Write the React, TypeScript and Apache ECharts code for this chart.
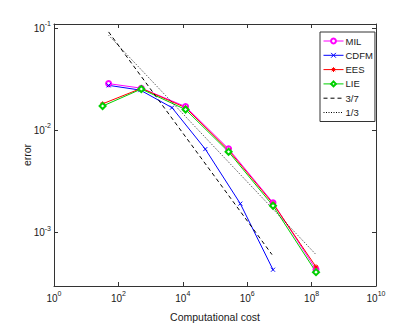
import React, { useEffect, useRef } from 'react';
import * as echarts from 'echarts';

// Series data (x = computational cost, y = error)
const milX = [49.6, 514, 12200, 264000, 6.33e6, 1.37e8];
const milY = [0.0287, 0.0259, 0.0171, 0.0066, 0.00196, 4.35e-4];
const cdfmX = [49.6, 479, 4620, 50000, 611000, 6.33e6];
const cdfmY = [0.0276, 0.0248, 0.0167, 0.00656, 0.00192, 4.33e-4];
const eesX = [32.3, 514, 12200, 264000, 6.33e6, 1.37e8];
const eesY = [0.0182, 0.0258, 0.0167, 0.0064, 0.00192, 4.62e-4];
const lieX = [32.3, 514, 12200, 264000, 6.33e6, 1.37e8];
const lieY = [0.0173, 0.0254, 0.016, 0.00617, 0.00183, 4.1e-4];
const ref37X = [49.6, 5.89e6];
const ref37Y = [0.092, 6.09e-4];
const ref13X = [49.6, 1.37e8];
const ref13Y = [0.0855, 6.09e-4];

const seriesNames = ['MIL', 'CDFM', 'EES', 'LIE', '3/7', '1/3'];
const refNames = ['3/7', '1/3'];

const FONT = "'Liberation Sans', Arial, Helvetica, sans-serif";
const AXIS_COLOR = '#333333';
const TEXT_COLOR = '#1a1a1a';

const zip = (xs: number[], ys: number[]) => xs.map((x, i) => [x, ys[i]]);

const expLabel = (v: number) => `{b|10}{s|${Math.round(Math.log10(v))}}`;

const rich = {
  b: { fontSize: 10, lineHeight: 16, fontFamily: FONT, color: TEXT_COLOR },
  s: { fontSize: 7, lineHeight: 6, verticalAlign: 'top', fontFamily: FONT, color: TEXT_COLOR },
};

const X_SYMBOL = 'path://M0 0L10 10M10 0L0 10';
const STAR_SYMBOL = 'path://M5 0L5 10M0 5L10 5M1.5 1.5L8.5 8.5M8.5 1.5L1.5 8.5';

function buildOption() {
  const xCommon = {
    type: 'log',
    logBase: 100,
    min: 1,
    max: 1e10,
    axisLine: { show: true, lineStyle: { color: AXIS_COLOR, width: 1 } },
    axisTick: { show: true, inside: true, length: 4, lineStyle: { color: AXIS_COLOR } },
    splitLine: { show: false },
    minorTick: { show: false },
  };
  const yCommon = {
    type: 'log',
    logBase: 10,
    min: 3e-4,
    max: 0.11,
    axisLine: { show: true, lineStyle: { color: AXIS_COLOR, width: 1 } },
    axisTick: { show: true, inside: true, length: 4, lineStyle: { color: AXIS_COLOR } },
    splitLine: { show: false },
    minorTick: { show: false },
  };
  const dataLine = (name: string, xs: number[], ys: number[], color: string, symbol: string, size: number) => ({
    name,
    type: 'line',
    xAxisIndex: 0,
    yAxisIndex: 0,
    data: zip(xs, ys),
    symbol,
    symbolSize: size,
    showAllSymbol: true,
    lineStyle: { color, width: 1 },
    itemStyle: { color, borderColor: color, borderWidth: 1 },
    emphasis: { disabled: true },
  });
  return {
    animation: false,
    textStyle: { fontFamily: FONT },
    grid: { left: 54, right: 39, top: 24, bottom: 40, containLabel: false },
    legend: {
      data: seriesNames.map((n) =>
        refNames.includes(n) ? { name: n, itemStyle: { opacity: 0 } } : { name: n }
      ),
      orient: 'vertical',
      left: 320,
      top: 32,
      padding: [3, 2, 3, 3],
      itemWidth: 20,
      itemHeight: 6,
      itemGap: 2.3,
      selectedMode: false,
      backgroundColor: '#ffffff',
      borderColor: AXIS_COLOR,
      borderWidth: 1,
      borderRadius: 0,
      itemStyle: { borderWidth: 1 },
      lineStyle: { width: 1 },
      textStyle: { fontSize: 9.5, lineHeight: 12, color: TEXT_COLOR, fontFamily: FONT, padding: [0, 0, 0, -3] },
    },
    xAxis: [
      {
        ...xCommon,
        position: 'bottom',
        name: 'Computational cost',
        nameLocation: 'middle',
        nameGap: 25,
        nameMoveOverlap: false,
        nameTextStyle: { fontSize: 10.5, color: TEXT_COLOR, fontFamily: FONT },
        axisLabel: { show: true, margin: 4, formatter: expLabel, rich },
      },
      {
        ...xCommon,
        position: 'top',
        axisLabel: { show: false },
      },
    ],
    yAxis: [
      {
        ...yCommon,
        position: 'left',
        name: 'error',
        nameLocation: 'middle',
        nameGap: 22,
        nameMoveOverlap: false,
        nameTextStyle: { fontSize: 10.5, color: TEXT_COLOR, fontFamily: FONT },
        axisLabel: { show: true, margin: 3, formatter: expLabel, rich, showMinLabel: false, showMaxLabel: false },
      },
      {
        ...yCommon,
        position: 'right',
        axisLabel: { show: false },
      },
    ],
    series: [
      dataLine('MIL', milX, milY, '#ff00ff', 'emptyCircle', 5),
      dataLine('CDFM', cdfmX, cdfmY, '#0000ff', X_SYMBOL, 4),
      dataLine('EES', eesX, eesY, '#ff0000', STAR_SYMBOL, 5),
      dataLine('LIE', lieX, lieY, '#00d000', 'emptyDiamond', 6),
      {
        name: '3/7',
        type: 'line',
        data: zip(ref37X, ref37Y),
        symbol: 'none',
        lineStyle: { color: '#000000', width: 1, type: [4, 3] },
        itemStyle: { color: '#000000' },
        emphasis: { disabled: true },
      },
      {
        name: '1/3',
        type: 'line',
        data: zip(ref13X, ref13Y),
        symbol: 'none',
        lineStyle: { color: '#000000', width: 0.8, type: [1, 1.5] },
        itemStyle: { color: '#000000' },
        emphasis: { disabled: true },
      },
    ],
  };
}

export default function App() {
  const ref = useRef<HTMLDivElement>(null);
  useEffect(() => {
    document.body.style.margin = '0';
    const chart = echarts.init(ref.current!, null, { renderer: 'svg' });
    chart.setOption(buildOption() as any);
    return () => chart.dispose();
  }, []);
  return <div ref={ref} style={{ width: 415, height: 327, background: '#ffffff' }} />;
}
